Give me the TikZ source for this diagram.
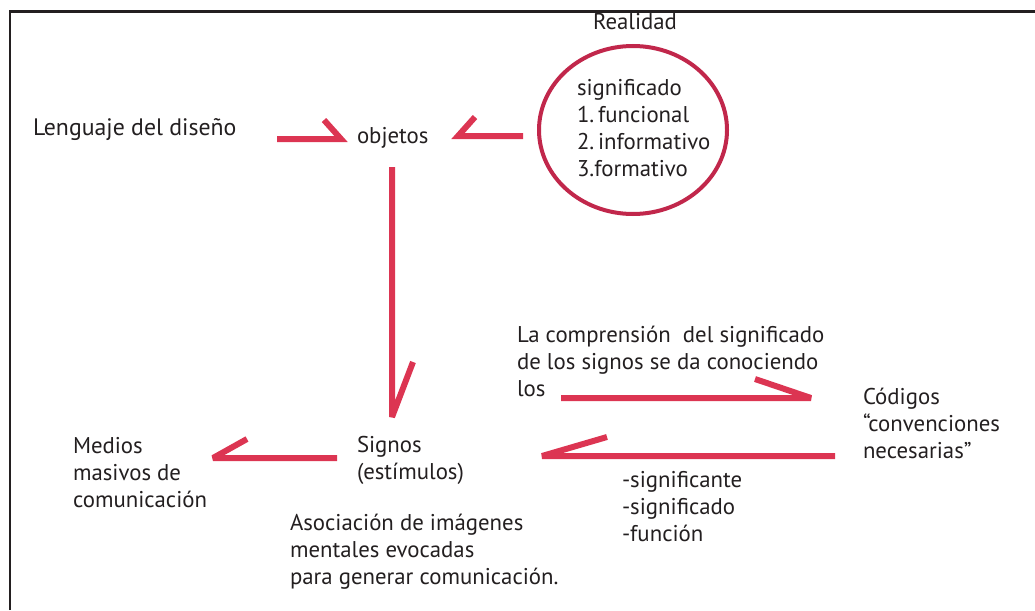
\documentclass[tikz,border=0pt]{standalone}
\usepackage{fontspec}
\setmainfont{PT Sans}
\definecolor{arrred}{HTML}{DC3552}
\definecolor{circred}{HTML}{C1274B}
\definecolor{frame}{HTML}{231F20}
\definecolor{txt}{HTML}{231F20}
\tikzset{
  arr/.style={draw=arrred, line width=6pt, line cap=butt, line join=miter, miter limit=3},
  lbl/.style={inner sep=0pt, outer sep=0pt, anchor=base west, text=txt, align=left,
    font=\fontsize{22.8}{27}\selectfont},
}
\begin{document}
\begin{tikzpicture}[x=1pt,y=-1pt]
\useasboundingbox (0,0) rectangle (1035,610);
\draw[frame, line width=2.5pt] (10,610) -- (10,11.5) -- (1035,11.5);

% nodes (multi-line nodes are placed at the baseline of their last line)
\node[lbl, font=\fontsize{23.8}{27}\selectfont] (lang) at (33,135) {Lenguaje del diseño};
\node[lbl] (obj) at (357,143) {objetos};
\node[lbl] (real) at (593,30) {Realidad};
\draw[circred, line width=4pt] (633,130) ellipse [x radius=94, y radius=84];
\node[lbl] (sig) at (577,176) {significado\\1.\,funcional\\2.\,informativo\\3.formativo};
\node[lbl] (signos) at (357,479) {Signos\\(estímulos)};
\node[lbl] (medios) at (73,507) {Medios\\masivos de\\comunicación};
\node[lbl] (compr) at (517,396) {La comprensión~ del significado\\de los signos se da conociendo\\los};
\node[lbl] (cod) at (863,458) {Códigos\\“convenciones\\necesarias”};
\node[lbl] (sfte) at (622,541) {-significante\\-significado\\-función};
\node[lbl] (asoc) at (290,584) {Asociación de imágenes\\mentales evocadas\\para generar comunicación.};

% connector end points
\coordinate (a1s) at (277,139); \coordinate (a1e) at (341,139);
\coordinate (a2s) at (523,136); \coordinate (a2e) at (458,136);
\coordinate (a3s) at (392,167); \coordinate (a3e) at (392,417);
\coordinate (a4s) at (337,458); \coordinate (a4e) at (213,458);
\coordinate (a5s) at (561,398); \coordinate (a5e) at (811,398);
\coordinate (a6s) at (835,456); \coordinate (a6e) at (542,456);

\draw[arr] (a1s) -- (a1e) -- ++(-17,-19);
\draw[arr] (a2s) -- (a2e) -- ++(17,-19);
\draw[arr] (a3s) -- (a3e) -- ++(21,-55);
\draw[arr] (a4s) -- (a4e) -- ++(34,-19);
\draw[arr] (a5s) -- (a5e) -- ++(-56,-19);
\draw[arr] (a6s) -- (a6e) -- ++(65,-19);
\end{tikzpicture}
\end{document}
